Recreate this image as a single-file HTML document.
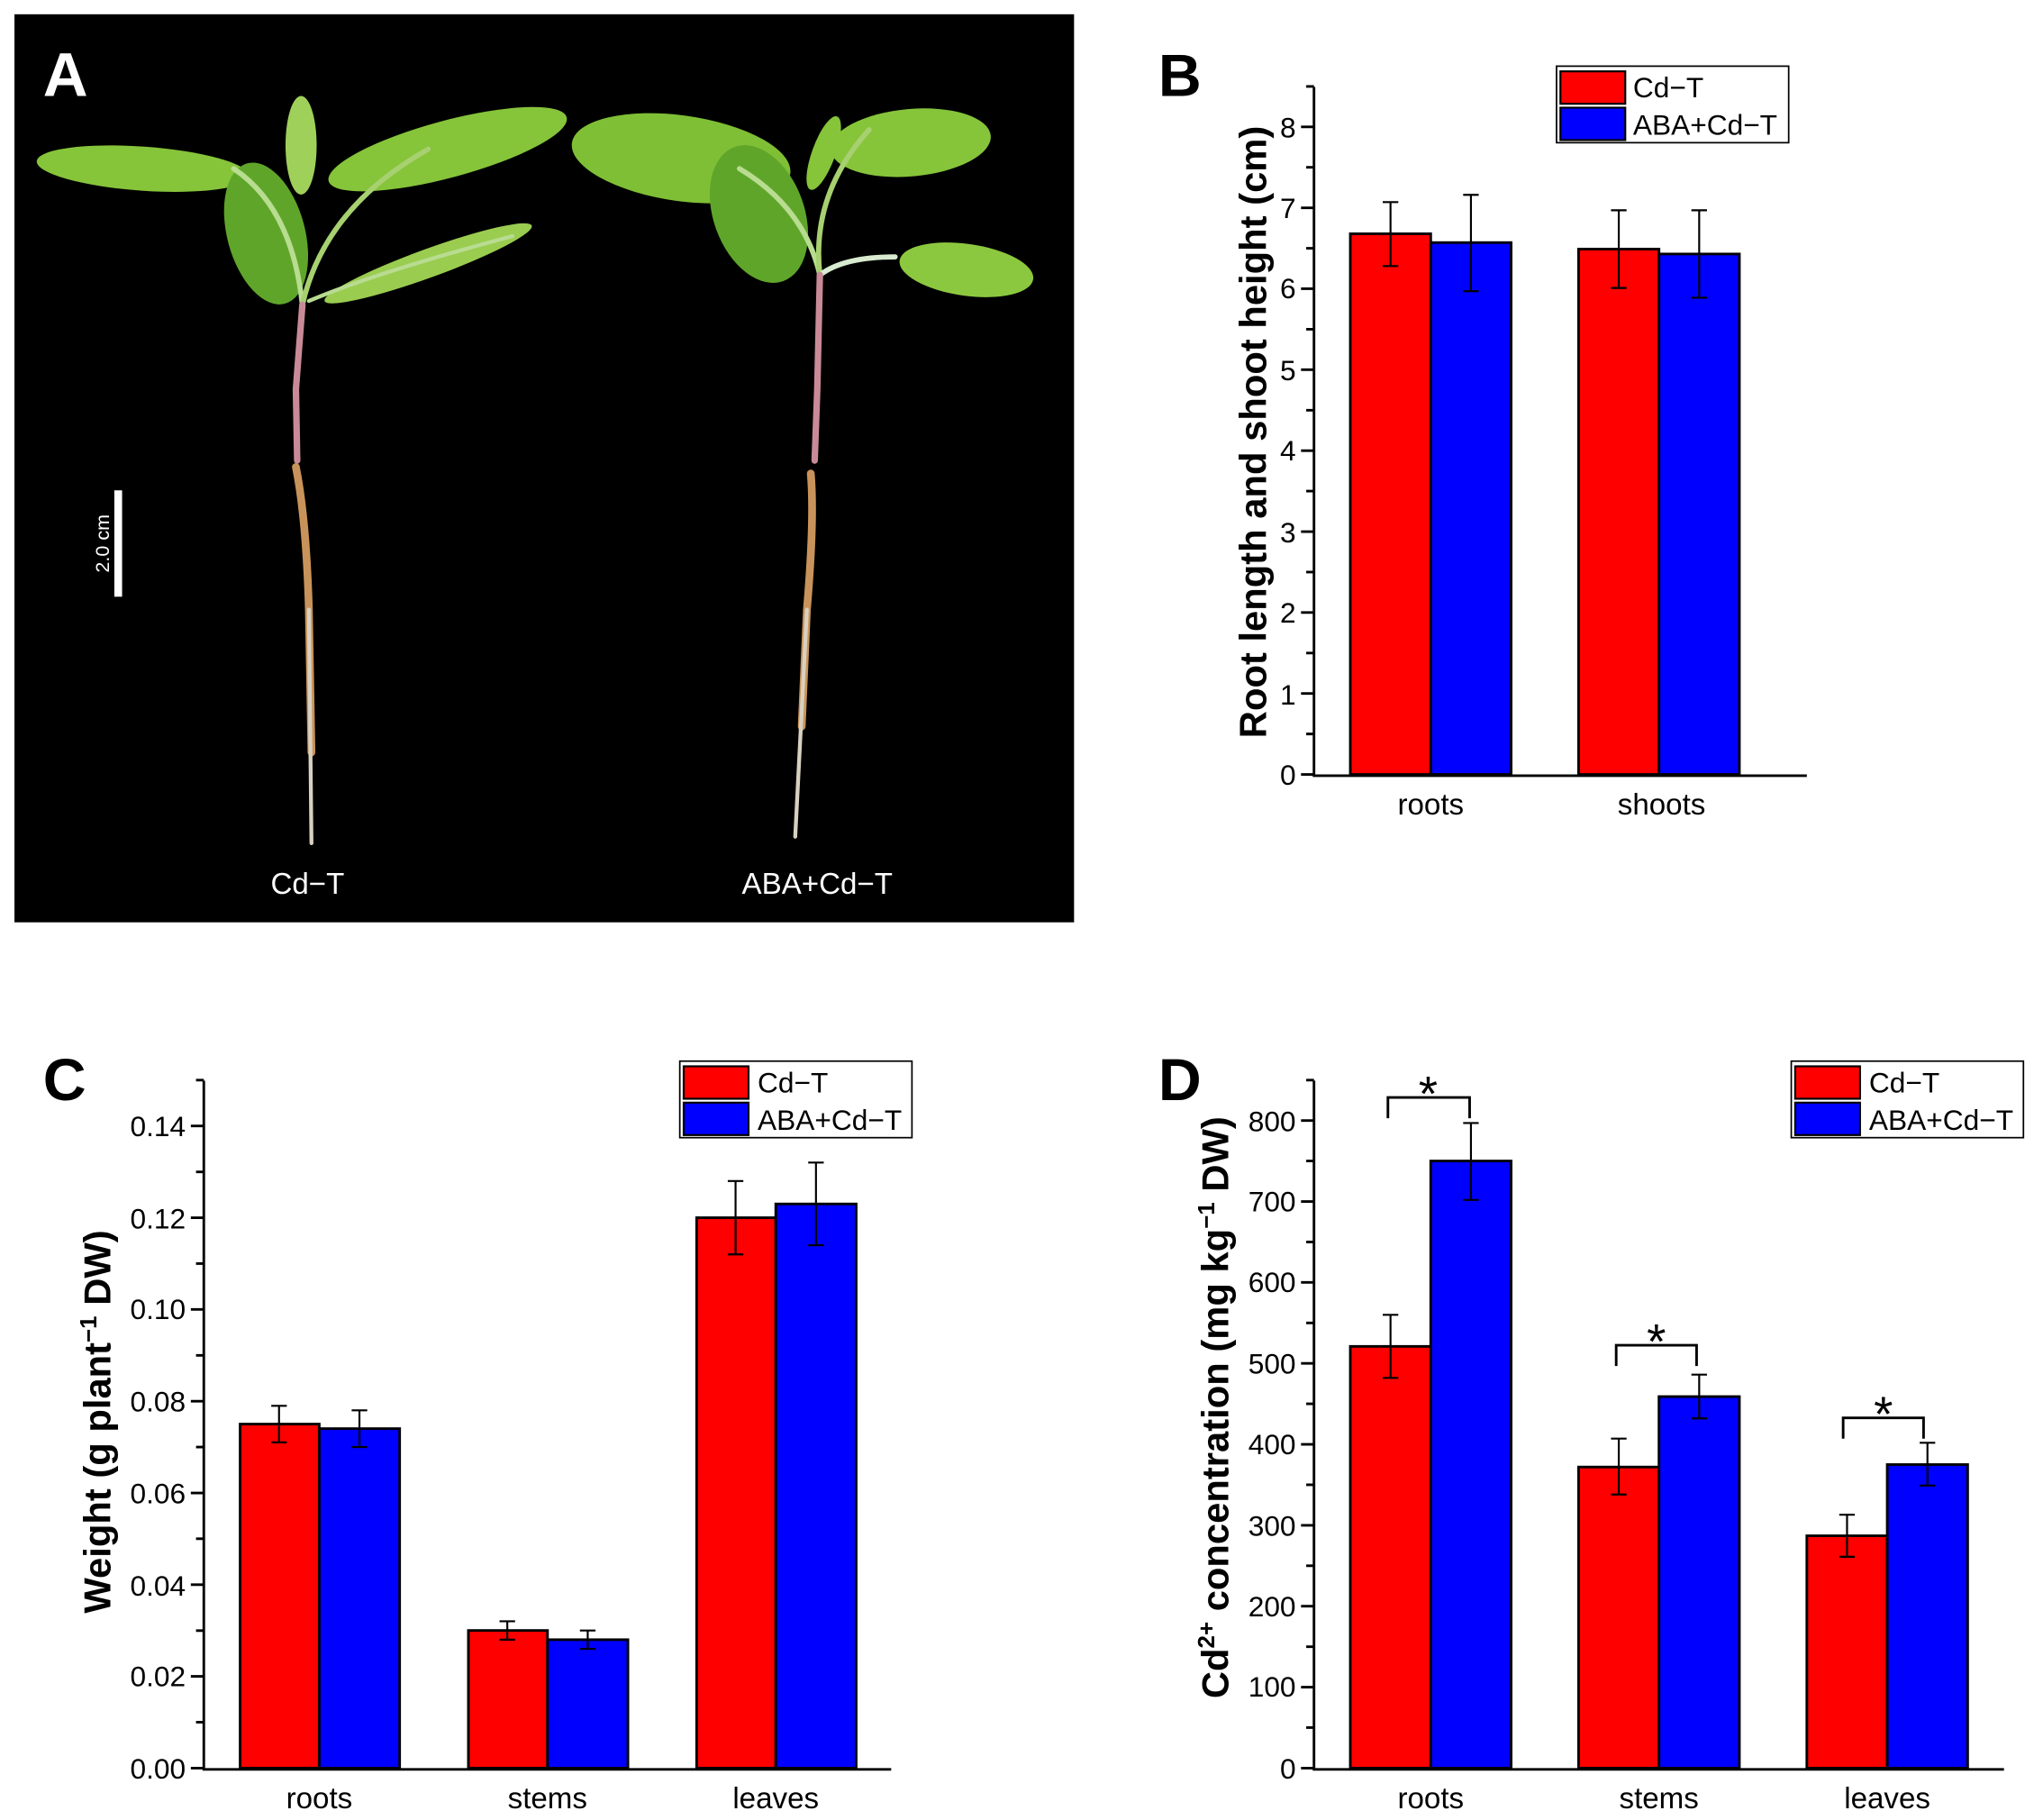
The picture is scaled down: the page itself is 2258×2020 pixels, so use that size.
<!DOCTYPE html>
<html><head><meta charset="utf-8"><style>html,body{margin:0;padding:0;background:#fff}svg{display:block}</style></head>
<body>
<svg width="2258" height="2020" viewBox="0 0 1568 1403" xmlns="http://www.w3.org/2000/svg" font-family="Liberation Sans, Arial, sans-serif">
<rect width="1568" height="1403" fill="#fff"/>
<!-- Panel A -->
<rect x="11" y="11" width="817" height="700" fill="#000"/>
<text x="33" y="74" font-size="48" font-weight="bold" fill="#fff">A</text>
<g fill="#86c43a">
<ellipse cx="110" cy="130" rx="82" ry="17" transform="rotate(4 110 130)"/>
<ellipse cx="205" cy="180" rx="30" ry="56" transform="rotate(-15 205 180)" fill="#5fa52a"/>
<ellipse cx="232" cy="112" rx="12" ry="38" fill="#9fd05a"/>
<ellipse cx="345" cy="115" rx="95" ry="22" transform="rotate(-15 345 115)"/>
<ellipse cx="330" cy="203" rx="85" ry="11" transform="rotate(-20 330 203)" fill="#9acc50"/>
<ellipse cx="525" cy="122" rx="85" ry="33" transform="rotate(8 525 122)" fill="#7fbf35"/>
<ellipse cx="585" cy="165" rx="35" ry="55" transform="rotate(-20 585 165)" fill="#5fa52a"/>
<ellipse cx="635" cy="118" rx="9" ry="30" transform="rotate(20 635 118)"/>
<ellipse cx="702" cy="110" rx="62" ry="26" transform="rotate(-5 702 110)"/>
<ellipse cx="745" cy="208" rx="52" ry="20" transform="rotate(8 745 208)" fill="#8cc83f"/>
</g>
<g fill="none" stroke-linecap="round">
<path d="M180 130 Q225 160 233 235" stroke="#b8dc90" stroke-width="4"/>
<path d="M233 235 Q250 160 330 115" stroke="#a7d070" stroke-width="4"/>
<path d="M238 232 Q290 210 395 182" stroke="#b8dc90" stroke-width="3"/>
<path d="M233 235 L228 300 L229 355" stroke="#c98a98" stroke-width="5"/>
<path d="M228 360 Q236 400 238 470 L240 580" stroke="#c8935a" stroke-width="6"/>
<path d="M238 470 L240 650" stroke="#d8d0c0" stroke-width="3"/>
<path d="M570 130 Q620 160 632 212" stroke="#b8dc90" stroke-width="4"/>
<path d="M632 212 Q625 150 670 100" stroke="#a7d070" stroke-width="4"/>
<path d="M632 212 Q650 198 690 198" stroke="#d8ead0" stroke-width="4"/>
<path d="M632 212 L630 300 L628 355" stroke="#c98a98" stroke-width="5"/>
<path d="M625 365 Q628 400 622 470 L618 560" stroke="#c8935a" stroke-width="6"/>
<path d="M622 470 L613 645" stroke="#d8d0c0" stroke-width="3"/>
</g>
<rect x="88" y="378" width="6" height="82" fill="#fff"/>
<text transform="translate(84 419) rotate(-90)" text-anchor="middle" font-size="15" fill="#fff">2.0 cm</text>
<text x="237" y="689" text-anchor="middle" font-size="23" fill="#fff">Cd−T</text>
<text x="630" y="689" text-anchor="middle" font-size="23" fill="#fff">ABA+Cd−T</text>

<!-- Panel B -->
<text x="893" y="74" font-size="46" font-weight="bold">B</text>
<g stroke="#000" stroke-width="2" fill="none">
<path d="M1013 67 V598 H1393"/>
<path d="M1003 597H1013M1003 534.6H1013M1003 472.2H1013M1003 409.8H1013M1003 347.4H1013M1003 285H1013M1003 222.6H1013M1003 160.2H1013M1003 97.8H1013"/>
<path d="M1007 565.8H1013M1007 503.4H1013M1007 441H1013M1007 378.6H1013M1007 316.2H1013M1007 253.8H1013M1007 191.4H1013M1007 129H1013M1007 66.6H1013"/>
</g>
<g font-size="22" text-anchor="end">
<text x="999" y="605">0</text><text x="999" y="543">1</text><text x="999" y="480">2</text><text x="999" y="418">3</text><text x="999" y="355">4</text><text x="999" y="293">5</text><text x="999" y="230">6</text><text x="999" y="168">7</text><text x="999" y="106">8</text>
</g>
<g stroke="#000" stroke-width="2">
<rect x="1041" y="180.2" width="62" height="416.8" fill="#f00"/>
<rect x="1103" y="187" width="62" height="410" fill="#00f"/>
<rect x="1217" y="192" width="62" height="405" fill="#f00"/>
<rect x="1279" y="195.8" width="62" height="401.2" fill="#00f"/>
</g>
<g stroke="#000" stroke-width="1.5" fill="none">
<path d="M1072 155.8V205.1M1066 155.8H1078M1066 205.1H1078"/>
<path d="M1134 150.2V224.5M1128 150.2H1140M1128 224.5H1140"/>
<path d="M1248 162.1V222M1242 162.1H1254M1242 222H1254"/>
<path d="M1310 162.1V229.5M1304 162.1H1316M1304 229.5H1316"/>
</g>
<g font-size="23" text-anchor="middle"><text x="1103" y="628">roots</text><text x="1281" y="628">shoots</text></g>
<text transform="translate(976 333) rotate(-90)" text-anchor="middle" font-size="29" font-weight="bold">Root length and shoot height (cm)</text>
<rect x="1200" y="51" width="179" height="59" fill="#fff" stroke="#000" stroke-width="1.2"/>
<rect x="1203" y="55" width="50" height="25" fill="#f00" stroke="#000" stroke-width="1.5"/>
<rect x="1203" y="83" width="50" height="25" fill="#00f" stroke="#000" stroke-width="1.5"/>
<text x="1259" y="75" font-size="22">Cd−T</text><text x="1259" y="104" font-size="22">ABA+Cd−T</text>

<!-- Panel C -->
<text x="33" y="848" font-size="46" font-weight="bold">C</text>
<g stroke="#000" stroke-width="2" fill="none">
<path d="M157 833 V1364 H687"/>
<path d="M147 1363H157M147 1292.3H157M147 1221.6H157M147 1150.9H157M147 1080.2H157M147 1009.4H157M147 938.7H157M147 868H157"/>
<path d="M151 1327.6H157M151 1257H157M151 1186.2H157M151 1115.5H157M151 1044.8H157M151 974.1H157M151 903.4H157M151 832.6H157"/>
</g>
<g font-size="22" text-anchor="end">
<text x="143" y="1371">0.00</text><text x="143" y="1300">0.02</text><text x="143" y="1230">0.04</text><text x="143" y="1159">0.06</text><text x="143" y="1088">0.08</text><text x="143" y="1017">0.10</text><text x="143" y="947">0.12</text><text x="143" y="876">0.14</text>
</g>
<g stroke="#000" stroke-width="2">
<rect x="185" y="1097.8" width="61" height="265.2" fill="#f00"/>
<rect x="246" y="1101.3" width="62" height="261.7" fill="#00f"/>
<rect x="361" y="1256.9" width="61" height="106.1" fill="#f00"/>
<rect x="422" y="1264" width="62" height="99" fill="#00f"/>
<rect x="537" y="938.7" width="61" height="424.3" fill="#f00"/>
<rect x="598" y="928.1" width="62" height="434.9" fill="#00f"/>
</g>
<g stroke="#000" stroke-width="1.5" fill="none">
<path d="M215 1083.7V1111.9M209 1083.7H221M209 1111.9H221"/>
<path d="M277 1087.2V1115.5M271 1087.2H283M271 1115.5H283"/>
<path d="M391 1249.8V1264M385 1249.8H397M385 1264H397"/>
<path d="M453 1256.9V1271.1M447 1256.9H459M447 1271.1H459"/>
<path d="M567 910.4V967M561 910.4H573M561 967H573"/>
<path d="M629 896.2V959.9M623 896.2H635M623 959.9H635"/>
</g>
<g font-size="23" text-anchor="middle"><text x="246" y="1394">roots</text><text x="422" y="1394">stems</text><text x="598" y="1394">leaves</text></g>
<text transform="translate(85 1096) rotate(-90)" text-anchor="middle" font-size="29" font-weight="bold">Weight (g plant<tspan dy="-11" font-size="18">−1</tspan><tspan dy="11"> DW)</tspan></text>
<rect x="524" y="818" width="179" height="59" fill="#fff" stroke="#000" stroke-width="1.2"/>
<rect x="527" y="822" width="50" height="25" fill="#f00" stroke="#000" stroke-width="1.5"/>
<rect x="527" y="850" width="50" height="25" fill="#00f" stroke="#000" stroke-width="1.5"/>
<text x="584" y="842" font-size="22">Cd−T</text><text x="584" y="871" font-size="22">ABA+Cd−T</text>

<!-- Panel D -->
<text x="893" y="848" font-size="46" font-weight="bold">D</text>
<g stroke="#000" stroke-width="2" fill="none">
<path d="M1013 833 V1364 H1545"/>
<path d="M1003 1363H1013M1003 1300.6H1013M1003 1238.2H1013M1003 1175.8H1013M1003 1113.4H1013M1003 1051H1013M1003 988.6H1013M1003 926.2H1013M1003 863.8H1013"/>
<path d="M1007 1331.8H1013M1007 1269.4H1013M1007 1207H1013M1007 1144.6H1013M1007 1082.2H1013M1007 1019.8H1013M1007 957.4H1013M1007 895H1013M1007 832.6H1013"/>
</g>
<g font-size="22" text-anchor="end">
<text x="999" y="1371">0</text><text x="999" y="1308">100</text><text x="999" y="1246">200</text><text x="999" y="1184">300</text><text x="999" y="1121">400</text><text x="999" y="1059">500</text><text x="999" y="996">600</text><text x="999" y="934">700</text><text x="999" y="872">800</text>
</g>
<g stroke="#000" stroke-width="2">
<rect x="1041" y="1037.9" width="62" height="325.1" fill="#f00"/>
<rect x="1103" y="895" width="62" height="468" fill="#00f"/>
<rect x="1217" y="1130.9" width="62" height="232.1" fill="#f00"/>
<rect x="1279" y="1076.6" width="62" height="286.4" fill="#00f"/>
<rect x="1393" y="1183.9" width="62" height="179.1" fill="#f00"/>
<rect x="1455" y="1129" width="62" height="234" fill="#00f"/>
</g>
<g stroke="#000" stroke-width="1.5" fill="none">
<path d="M1072 1013.6V1062.2M1066 1013.6H1078M1066 1062.2H1078"/>
<path d="M1134 865.7V925M1128 865.7H1140M1128 925H1140"/>
<path d="M1248 1109V1152.1M1242 1109H1254M1242 1152.1H1254"/>
<path d="M1310 1059.7V1093.4M1304 1059.7H1316M1304 1093.4H1316"/>
<path d="M1424 1167.7V1200.1M1418 1167.7H1430M1418 1200.1H1430"/>
<path d="M1486 1112.2V1145.2M1480 1112.2H1492M1480 1145.2H1492"/>
<path d="M1070 862V846H1133V862" stroke-width="2"/>
<path d="M1246 1053V1037H1308V1053" stroke-width="2"/>
<path d="M1421 1109V1093H1483V1109" stroke-width="2"/>
</g>
<g font-size="38" text-anchor="middle"><text x="1101" y="856">*</text><text x="1277" y="1047">*</text><text x="1452" y="1103">*</text></g>
<g font-size="23" text-anchor="middle"><text x="1103" y="1394">roots</text><text x="1279" y="1394">stems</text><text x="1455" y="1394">leaves</text></g>
<text transform="translate(947 1085) rotate(-90)" text-anchor="middle" font-size="29" font-weight="bold">Cd<tspan dy="-11" font-size="18">2+</tspan><tspan dy="11"> concentration (mg kg</tspan><tspan dy="-11" font-size="18">−1</tspan><tspan dy="11"> DW)</tspan></text>
<rect x="1381" y="818" width="179" height="59" fill="#fff" stroke="#000" stroke-width="1.2"/>
<rect x="1384" y="822" width="50" height="25" fill="#f00" stroke="#000" stroke-width="1.5"/>
<rect x="1384" y="850" width="50" height="25" fill="#00f" stroke="#000" stroke-width="1.5"/>
<text x="1441" y="842" font-size="22">Cd−T</text><text x="1441" y="871" font-size="22">ABA+Cd−T</text>
</svg>
</body></html>
